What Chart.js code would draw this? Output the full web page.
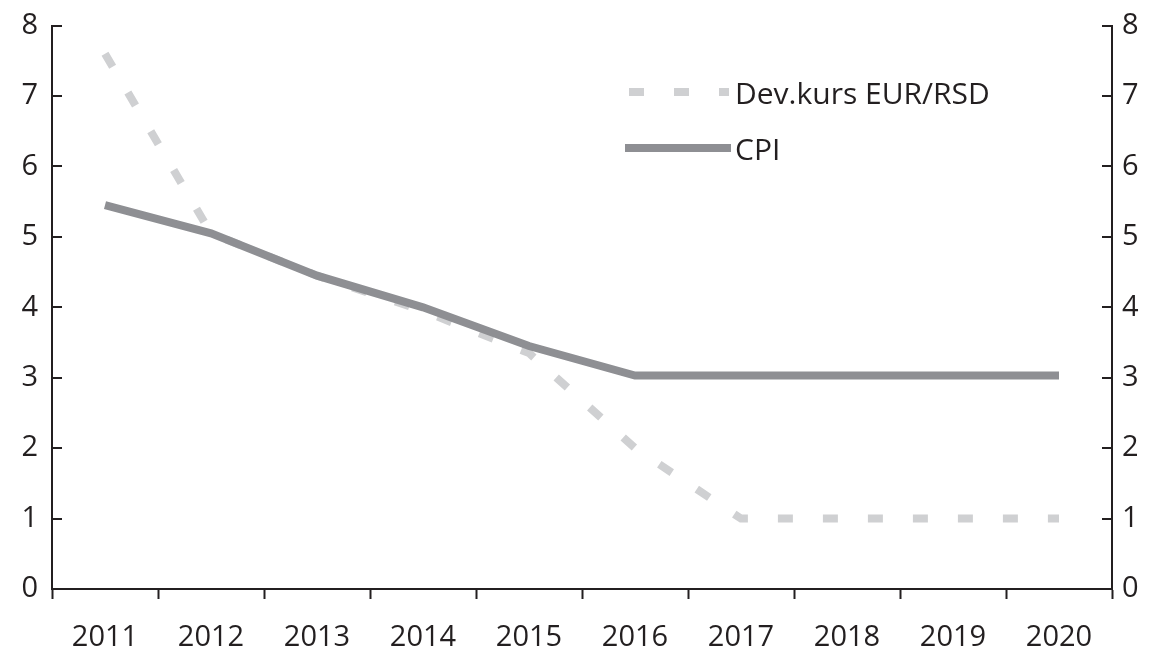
<!DOCTYPE html>
<html lang="sr">
<head>
  <meta charset="UTF-8" />
  <title>Dev.kurs EUR/RSD i CPI</title>
  <script src="https://cdn.jsdelivr.net/npm/chart.js@4.4.1/dist/chart.umd.min.js"></script>
  <style>
    html, body { margin: 0; padding: 0; background: #fff; }
    #wrap { width: 1158px; height: 650px; }
  </style>
</head>
<body>
  <div id="wrap"><canvas id="chart"></canvas></div>

  <script>
    // podaci sa grafikona
    const years = ["2011", "2012", "2013", "2014", "2015", "2016", "2017", "2018", "2019", "2020"];
    const devKurs = [7.6, 5.05, 4.45, 3.95, 3.35, 2.0, 1.0, 1.0, 1.0, 1.0];
    const cpi = [5.45, 5.05, 4.45, 4.0, 3.45, 3.03, 3.03, 3.03, 3.03, 3.03];
    const yTicks = [0, 1, 2, 3, 4, 5, 6, 7, 8];

    const ink = "#231f20";
    const font = { family: "'Open Sans', sans-serif", size: 29 };
    const yFont = { family: font.family, size: 29, lineHeight: 0.8 };

    // kratke crtice na y osama, okrenute ka unutra
    const innerTicks = {
      id: "innerTicks",
      afterDraw(chart) {
        const ctx = chart.ctx;
        const area = chart.chartArea;
        ctx.save();
        ctx.strokeStyle = ink;
        ctx.lineWidth = 2;
        for (const v of yTicks) {
          const y = Math.round(chart.scales.y.getPixelForValue(v));
          ctx.beginPath();
          ctx.moveTo(area.left, y);
          ctx.lineTo(area.left + 10, y);
          ctx.moveTo(area.right, y);
          ctx.lineTo(area.right - 10, y);
          ctx.stroke();
        }
        ctx.restore();
      }
    };

    // legenda unutar grafikona
    const innerLegend = {
      id: "innerLegend",
      afterDraw(chart) {
        const ctx = chart.ctx;
        const items = [
          { ds: chart.data.datasets[1], x0: 629, x1: 729, y: 92 },
          { ds: chart.data.datasets[0], x0: 625, x1: 731, y: 148 }
        ];
        ctx.save();
        for (const it of items) {
          ctx.strokeStyle = it.ds.borderColor;
          ctx.lineWidth = it.ds.borderWidth;
          ctx.setLineDash(it.ds.borderDash || []);
          ctx.lineCap = "butt";
          ctx.beginPath();
          ctx.moveTo(it.x0, it.y);
          ctx.lineTo(it.x1, it.y);
          ctx.stroke();
          ctx.setLineDash([]);
          ctx.fillStyle = ink;
          ctx.font = `30px ${font.family}`;
          ctx.textBaseline = "middle";
          ctx.fillText(it.ds.label, 735, it.y + 3);
        }
        ctx.restore();
      }
    };

    new Chart(document.getElementById("chart"), {
      type: "line",
      data: {
        labels: years,
        datasets: [
          {
            label: "CPI",
            data: cpi,
            borderColor: "#8e8f93",
            borderWidth: 8,
            borderJoinStyle: "miter",
            borderCapStyle: "butt",
            pointRadius: 0,
            tension: 0,
            order: 0
          },
          {
            label: "Dev.kurs EUR/RSD",
            data: devKurs,
            borderColor: "#cfd0d2",
            borderWidth: 8,
            borderDash: [15, 30],
            borderCapStyle: "butt",
            pointRadius: 0,
            tension: 0,
            order: 1
          }
        ]
      },
      options: {
        responsive: true,
        maintainAspectRatio: false,
        animation: false,
        devicePixelRatio: 1,
        events: [],
        layout: { padding: { top: 24, left: 0, right: 0, bottom: 0 } },
        plugins: {
          legend: { display: false },
          tooltip: { enabled: false }
        },
        scales: {
          x: {
            offset: true,
            grid: {
              offset: true,
              drawOnChartArea: false,
              drawTicks: true,
              tickLength: 10,
              tickWidth: 2,
              tickColor: ink
            },
            border: { display: true, color: ink, width: 2 },
            ticks: { color: ink, font: font, padding: 21, maxRotation: 0 },
            afterFit(s) { s.height = 61; }
          },
          y: {
            position: "left",
            min: 0,
            max: 8,
            grid: { drawOnChartArea: false, drawTicks: false },
            border: { display: true, color: ink, width: 2 },
            ticks: { stepSize: 1, color: ink, font: yFont, padding: 14 },
            afterFit(s) { s.width = 52; }
          },
          y2: {
            position: "right",
            min: 0,
            max: 8,
            grid: { drawOnChartArea: false, drawTicks: false },
            border: { display: true, color: ink, width: 2 },
            ticks: { stepSize: 1, color: ink, font: yFont, padding: 10 },
            afterFit(s) { s.width = 46; }
          }
        }
      },
      plugins: [innerTicks, innerLegend]
    });
  </script>
</body>
</html>
